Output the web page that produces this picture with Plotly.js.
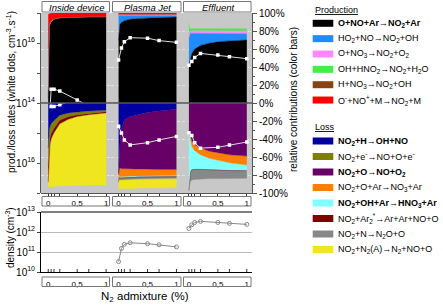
<!DOCTYPE html>
<html><head><meta charset="utf-8">
<script src="https://cdn.plot.ly/plotly-3.0.1.min.js"></script>
<style>html,body{margin:0;padding:0;background:#fff}#chart{width:443px;height:307px}</style>
</head><body><div id="chart"></div>
<script>
// ---------- DATA ----------
const xGrid = [0, 0.005, 0.01, 0.02, 0.03, 0.05, 0.1, 0.2, 0.35, 0.5, 0.7, 1];
const xDots = [0, 0.05, 0.1, 0.2, 0.5, 0.7, 1];
const xTickVals = [0, 0.05, 0.1, 0.2, 0.5, 0.7, 1];
const xTickText = ['0', '', '', '', '0,5', '', '1'];
const panelTitles = ['Inside device', 'Plasma Jet', 'Effluent'];

const prodNames = ['<b>O+NO+Ar→NO<sub>2</sub>+Ar</b>', 'HO<sub>2</sub>+NO→NO<sub>2</sub>+OH', 'O+NO<sub>3</sub>→NO<sub>2</sub>+O<sub>2</sub>',
  'OH+HNO<sub>2</sub>→NO<sub>2</sub>+H<sub>2</sub>O', 'H+NO<sub>3</sub>→NO<sub>2</sub>+OH', 'O<sup>-</sup>+NO<sup>+</sup>+M→NO<sub>2</sub>+M'];
const prodColors = ['#000000', '#1E8CFF', '#FF88FF', '#44EE44', '#884411', '#FF0000'];
const lossNames = ['<b>NO<sub>2</sub>+H→OH+NO</b>', 'NO<sub>2</sub>+e<sup>-</sup>→NO+O+e<sup>-</sup>', '<b>NO<sub>2</sub>+O→NO+O<sub>2</sub></b>',
  'NO<sub>2</sub>+O+Ar→NO<sub>3</sub>+Ar', '<b>NO<sub>2</sub>+OH+Ar→HNO<sub>3</sub>+Ar</b>', 'NO<sub>2</sub>+Ar<sub>2</sub><sup>*</sup>→Ar+Ar+NO+O',
  'NO<sub>2</sub>+N→N<sub>2</sub>O+O', 'NO<sub>2</sub>+N<sub>2</sub>(A)→N<sub>2</sub>+NO+O'];
const lossColors = ['#0000A0', '#808000', '#660066', '#FF8000', '#80FFFF', '#800000', '#888888', '#F0E620'];

// relative contributions (%) at xGrid, order = prodNames
const insideProd = [
  [5, 40, 70, 83, 87, 90, 93, 94.5, 95, 95.5, 95.5, 95.5],
  [0, 0, 0, 0, 0, 0, 0, 0, 0, 0, 0, 0],
  [10, 6, 3, 1, 0.5, 0.3, 0.2, 0.1, 0.1, 0.1, 0.1, 0.1],
  [0, 0, 0, 0, 0, 0, 0, 0, 0, 0, 0, 0],
  [45, 30, 12, 4, 2, 1, 0.5, 0.3, 0.2, 0.2, 0.2, 0.2],
  [38, 22, 14, 11, 10, 8.5, 6.2, 5, 4.6, 4.2, 4.2, 4.2]
];
const plasmaProd = [
  [70, 78, 82, 86, 88, 89.5, 91.5, 93, 94, 94.5, 95, 95.5],
  [27, 19.5, 15.3, 11.3, 9.3, 7.8, 5.8, 4.3, 3.3, 2.8, 2.3, 1.8],
  [1, 1, 1, 1, 1, 1, 1, 1, 1, 1, 1, 1],
  [0, 0, 0, 0, 0, 0, 0, 0, 0, 0, 0, 0],
  [0.2, 0.2, 0.2, 0.2, 0.2, 0.2, 0.2, 0.2, 0.2, 0.2, 0.2, 0.2],
  [1.5, 1.5, 1.5, 1.5, 1.5, 1.5, 1.5, 1.5, 1.5, 1.5, 1.5, 1.5]
];
const effluentProd = [
  [42, 43.5, 45, 48, 51, 55, 60, 64, 66.5, 68, 69, 70],
  [29, 30.5, 31, 29, 26.5, 22.5, 17.3, 13.2, 10.7, 9, 8, 7],
  [4, 3, 2.5, 2.5, 2.5, 2.7, 2.9, 3, 2.9, 3, 3, 3],
  [14, 7, 4.5, 3, 2.7, 2.4, 2.3, 2.3, 2.4, 2.5, 2.5, 2.5],
  [0, 0, 0, 0, 0, 0, 0, 0, 0, 0, 0, 0],
  [0, 0, 0, 0, 0, 0, 0, 0, 0, 0, 0, 0]
];
// loss contributions (% , drawn downwards), order = lossNames
const insideLoss = [
  [50, 42, 36, 30, 26, 23, 19.5, 13.5, 11, 9.8, 8.8, 8],
  [20, 21, 20, 15, 13, 11, 8.5, 5.5, 4, 3.2, 2.7, 1.8],
  [0, 0, 0, 0, 0, 0, 0, 0, 0, 0, 0, 0],
  [0, 0, 0, 0, 0, 0, 0, 0, 0, 0, 0, 0],
  [0, 0, 0, 0, 0, 0, 0, 0, 0, 0, 0, 0],
  [18, 17, 14, 10, 8, 6, 5, 4, 3, 2, 1.5, 1.2],
  [0, 0, 0, 0, 0, 0, 0, 0, 0, 0, 0, 0],
  [4, 13, 23, 38, 46, 53, 59.5, 69, 73.5, 76, 78, 80]
];
const plasmaLoss = [
  [78, 70, 58, 45, 37, 29, 19, 15, 12.5, 10.5, 9, 7],
  [0, 0, 0, 0, 0, 0, 0, 0, 0, 0, 0, 0],
  [2, 6, 15, 27.5, 35.5, 44, 54, 58, 61, 63, 65, 67],
  [5, 6, 8.5, 9.5, 9.5, 9, 9, 8.5, 7.5, 7.5, 6.5, 6.5],
  [1.5, 1, 1, 1, 1, 1, 1, 1, 1, 1, 1, 1],
  [0.5, 0.5, 0.5, 0.5, 0.5, 0.5, 0.5, 0.5, 0.5, 0.5, 0.5, 0.5],
  [1.5, 2, 2, 2, 2, 2, 2, 2, 2, 2, 2, 2],
  [7.5, 10, 10.5, 10, 10, 10, 10, 10, 10, 10, 10, 10]
];
const effluentLoss = [
  [0.5, 0.5, 0.5, 0.5, 0.5, 0.5, 0.5, 0.5, 0.5, 0.5, 0.5, 0.5],
  [0, 0, 0, 0, 0, 0, 0, 0, 0, 0, 0, 0],
  [29.5, 30.5, 32.5, 35.5, 37.5, 41.5, 45.5, 49.5, 53, 55, 57, 58.5],
  [1, 2, 3, 5, 6, 6, 7, 7.5, 8, 8.5, 9, 10],
  [66, 59, 50, 38, 32, 26, 20.5, 16, 12.5, 10.5, 8.3, 6],
  [0.3, 0.3, 0.3, 0.3, 0.3, 0.3, 0.3, 0.3, 0.3, 0.3, 0.3, 0.3],
  [0.2, 1.7, 4.7, 8.7, 10.2, 11.2, 11.2, 10.7, 9.7, 9.2, 8.7, 8.2],
  [0, 0, 0, 0, 0, 0, 0, 0, 0, 0, 0, 0]
];

// total rates (white dots, cm^-3 s^-1) at xDots
const insideProdRate = [5e12, 2.9e14, 2.9e14, 2.5e14, 1.26e14, 8e13, 5e13];
const insideLossRate = [5e12, 1.3e14, 1.3e14, 1.15e14, 7e13, 6e13, 5e13];
const plasmaProdRate = [2.7e15, 6.8e15, 1.1e16, 1.5e16, 1.45e16, 1.2e16, 1.05e16];
const plasmaLossRate = [5.9e14, 1e15, 1.7e15, 2.5e15, 2.1e15, 1.7e15, 1.3e15];
const effluentProdRate = [1.8e15, 2.4e15, 3.3e15, 4.5e15, 4e15, 3.5e15, 3e15];
const effluentLossRate = [9.8e14, 1.2e15, 2.1e15, 3.2e15, 3e15, 2.5e15, 2e15];

// NO2 density (cm^-3) at xDots
const plasmaDensity = [3.3e10, 1.5e11, 2.4e11, 2.9e11, 2.6e11, 2.3e11, 1.8e11];
const effluentDensity = [1.5e12, 2.3e12, 3.0e12, 3.4e12, 3.0e12, 2.7e12, 2.4e12];

const pctVals = [-100, -80, -60, -40, -20, 0, 20, 40, 60, 80, 100];
const pctText = ['-100%', '-80%', '-60%', '-40%', '-20%', '0%', '20%', '40%', '60%', '80%', '100%'];

// ---------- LAYOUT HELPERS ----------
const W = 443, H = 307;
const px = v => v / W, py = v => 1 - v / H;
const panelPx = [[41, 111.33], [111.33, 181.67], [181.67, 252]];
const doms = panelPx.map(d => [px(d[0]), px(d[1])]);
const topY = [py(193), py(13)], midY = py(103), botY = [py(272), py(212)];
const XR = [-0.125, 1.09];
const FONT = 'Arial, "Liberation Sans", sans-serif';

const traces = [];
const panels = [
  {xa: 'x', prod: insideProd, loss: insideLoss, pr: insideProdRate, lr: insideLossRate},
  {xa: 'x2', prod: plasmaProd, loss: plasmaLoss, pr: plasmaProdRate, lr: plasmaLossRate},
  {xa: 'x3', prod: effluentProd, loss: effluentLoss, pr: effluentProdRate, lr: effluentLossRate}
];
panels.forEach((p, pi) => {
  p.prod.forEach((vals, i) => {
    if (!vals.some(v => v > 0)) return;
    traces.push({type: 'scatter', x: xGrid, y: vals, xaxis: p.xa, yaxis: 'y', stackgroup: 'prod' + pi,
      mode: 'lines', line: {width: 0.4, color: prodColors[i]}, fillcolor: prodColors[i], hoverinfo: 'skip'});
  });
  p.loss.forEach((vals, i) => {
    if (!vals.some(v => v > 0)) return;
    traces.push({type: 'scatter', x: xGrid, y: vals.map(v => -v), xaxis: p.xa, yaxis: 'y', stackgroup: 'loss' + pi,
      mode: 'lines', line: {width: 0.4, color: lossColors[i]}, fillcolor: lossColors[i], hoverinfo: 'skip'});
  });
});
panels.forEach(p => {
  [[p.pr, 'y2'], [p.lr, 'y3']].forEach(([vals, ya]) => {
    traces.push({type: 'scatter', x: xDots, y: vals, xaxis: p.xa, yaxis: ya, mode: 'lines+markers',
      line: {color: '#dddddd', width: 1}, marker: {symbol: 'square', size: 3.5, color: '#ffffff'}, hoverinfo: 'skip'});
  });
});
// inside device: no density data (empty trace keeps its axis)
traces.push({type: 'scatter', x: [], y: [], xaxis: 'x4', yaxis: 'y4', mode: 'markers', hoverinfo: 'skip'});
[[plasmaDensity, 'x5'], [effluentDensity, 'x6']].forEach(([vals, xa]) => {
  traces.push({type: 'scatter', x: xDots, y: vals, xaxis: xa, yaxis: 'y4', mode: 'lines+markers',
    line: {color: '#888888', width: 1}, marker: {symbol: 'circle-open', size: 4, color: '#888888', line: {width: 1}}, hoverinfo: 'skip'});
});

function xTop(dom) {
  return {domain: dom, range: XR, anchor: 'y', tickmode: 'array', tickvals: xTickVals, ticktext: xTickText,
    ticks: 'outside', ticklen: 2, tickcolor: '#333', showline: true, linecolor: '#555', linewidth: 1,
    showgrid: false, zeroline: false, tickfont: {size: 8}};
}
function xBot(dom) {
  return {domain: dom, range: XR, anchor: 'y4', tickmode: 'array', tickvals: xTickVals, ticktext: xTickText,
    ticks: 'outside', ticklen: 4, tickcolor: 'rgba(0,0,0,0)', showline: true, linecolor: '#000', linewidth: 1,
    showgrid: false, zeroline: false, tickfont: {size: 8}};
}
const logLbl = e => '10<sup>' + e + '</sup>';

const shapes = [
  {type: 'rect', xref: 'paper', yref: 'paper', x0: px(41), x1: px(252), y0: topY[0], y1: topY[1],
    fillcolor: '#c8c8c8', line: {width: 0}, layer: 'below'},
  {type: 'line', xref: 'paper', yref: 'y', x0: px(41), x1: px(252), y0: 0, y1: 0,
    line: {color: '#555555', width: 1.5}, layer: 'above'},
  {type: 'line', xref: 'paper', yref: 'paper', x0: px(41), x1: px(252), y0: botY[1], y1: botY[1],
    line: {color: '#000000', width: 1}, layer: 'above'}
];
// upward tick marks on bottom density axes
['x4', 'x5', 'x6'].forEach(xa => {
  xTickVals.forEach(v => {
    shapes.push({type: 'line', xref: xa, yref: 'paper', x0: v, x1: v, y0: botY[0], y1: botY[0] + 3 / H,
      line: {color: '#333', width: 1}});
  });
});
const boxX = [[42, 109.5], [112.5, 181], [183.5, 251]];
const annotations = [];
boxX.forEach((b, i) => {
  [[1.5, 12], [196.5, 206], [277, 286.5]].forEach(([t, bt]) => {
    shapes.push({type: 'rect', xref: 'paper', yref: 'paper', x0: px(b[0]), x1: px(b[1]), y0: py(bt), y1: py(t),
      fillcolor: 'rgba(0,0,0,0)', line: {color: '#777', width: 1}, layer: 'above'});
  });
  annotations.push({xref: 'paper', yref: 'paper', x: px((b[0] + b[1]) / 2 + 1), y: py(7), text: '<i>' + panelTitles[i] + '</i>',
    showarrow: false, xanchor: 'center', yanchor: 'middle', font: {size: 9.5}});
});

// legend
const sw = [312.7, 333.3];
annotations.push({xref: 'paper', yref: 'paper', x: px(312.5), y: py(10), text: '<u>Production</u>', showarrow: false,
  xanchor: 'left', yanchor: 'middle', font: {size: 9}});
prodNames.forEach((n, i) => {
  const yc = 23.3 + i * 15.35;
  shapes.push({type: 'rect', xref: 'paper', yref: 'paper', x0: px(sw[0]), x1: px(sw[1]), y0: py(yc + 3.5), y1: py(yc - 3.5),
    fillcolor: prodColors[i], line: {width: 0}});
  annotations.push({xref: 'paper', yref: 'paper', x: px(335.5), y: py(yc), text: n, showarrow: false,
    xanchor: 'left', yanchor: 'middle', font: {size: 9}});
});
annotations.push({xref: 'paper', yref: 'paper', x: px(312.5), y: py(127), text: '<u>Loss</u>', showarrow: false,
  xanchor: 'left', yanchor: 'middle', font: {size: 9}});
lossNames.forEach((n, i) => {
  const yc = 141 + i * 15.5;
  shapes.push({type: 'rect', xref: 'paper', yref: 'paper', x0: px(sw[0]), x1: px(sw[1]), y0: py(yc + 3.5), y1: py(yc - 3.5),
    fillcolor: lossColors[i], line: {width: 0}});
  annotations.push({xref: 'paper', yref: 'paper', x: px(335.5), y: py(yc), text: n, showarrow: false,
    xanchor: 'left', yanchor: 'middle', font: {size: 9}});
});

// axis titles
annotations.push({xref: 'paper', yref: 'paper', x: px(11), y: py(92), text: 'prod./loss rates (white dots, cm<sup>-3</sup>.s<sup>-1</sup>)',
  textangle: -90, showarrow: false, xanchor: 'center', yanchor: 'middle', font: {size: 10}});
annotations.push({xref: 'paper', yref: 'paper', x: px(294), y: py(100), text: 'relative contributions (color bars)',
  textangle: -90, showarrow: false, xanchor: 'center', yanchor: 'middle', font: {size: 10}});
annotations.push({xref: 'paper', yref: 'paper', x: px(10), y: py(238), text: 'density (cm<sup>-3</sup>)',
  textangle: -90, showarrow: false, xanchor: 'center', yanchor: 'middle', font: {size: 10}});
annotations.push({xref: 'paper', yref: 'paper', x: px(145), y: py(297), text: 'N<sub>2</sub> admixture (%)',
  showarrow: false, xanchor: 'center', yanchor: 'middle', font: {size: 11.5}});

const layout = {
  width: W, height: H, autosize: false, margin: {l: 0, r: 0, t: 0, b: 0},
  paper_bgcolor: '#ffffff', plot_bgcolor: 'rgba(0,0,0,0)', showlegend: false,
  font: {family: FONT, size: 10, color: '#000'},
  xaxis: xTop(doms[0]), xaxis2: xTop(doms[1]), xaxis3: xTop(doms[2]),
  xaxis4: xBot(doms[0]), xaxis5: xBot(doms[1]), xaxis6: xBot(doms[2]),
  yaxis: {domain: topY, range: [-100, 100], side: 'right', anchor: 'x3', tickmode: 'array', tickvals: pctVals, ticktext: pctText,
    ticks: 'outside', ticklen: 4, tickcolor: '#555', showline: true, linecolor: '#555', showgrid: true, gridcolor: '#e2e2e2',
    griddash: 'dot', gridwidth: 1, zeroline: false, tickfont: {size: 10},
    minor: {tickmode: 'array', tickvals: [-90, -70, -50, -30, -10, 10, 30, 50, 70, 90], ticks: 'outside', ticklen: 2, tickcolor: '#555', showgrid: false}},
  yaxis2: {domain: [midY, topY[1]], type: 'log', range: [14, 17], anchor: 'x', side: 'left', tickmode: 'array',
    tickvals: [1e14, 1e15, 1e16, 1e17], ticktext: [logLbl(14), '', logLbl(16), ''], ticks: 'outside', ticklen: 3, tickcolor: '#555',
    showline: true, linecolor: '#555', showgrid: false, zeroline: false, tickfont: {size: 10}},
  yaxis3: {domain: [topY[0], midY], type: 'log', range: [17, 14], anchor: 'x', side: 'left', tickmode: 'array',
    tickvals: [1e15, 1e16, 1e17], ticktext: ['', logLbl(16), ''], ticks: 'outside', ticklen: 3, tickcolor: '#555',
    showline: true, linecolor: '#555', showgrid: false, zeroline: false, tickfont: {size: 10}},
  yaxis4: {domain: botY, type: 'log', range: [10, 13], anchor: 'x4', side: 'left', tickmode: 'array',
    tickvals: [1e10, 1e11, 1e12, 1e13], ticktext: [logLbl(10), logLbl(11), logLbl(12), logLbl(13)], ticks: 'outside', ticklen: 3,
    showline: true, linecolor: '#000', showgrid: true, gridcolor: '#bbbbbb', zeroline: false, tickfont: {size: 10}},
  yaxis5: {overlaying: 'y4', type: 'log', range: [10, 13], anchor: 'x6', side: 'right', tickmode: 'array',
    tickvals: [1e10, 1e11, 1e12, 1e13], showticklabels: false, ticks: 'outside', ticklen: 3, tickcolor: '#555',
    showline: false, showgrid: false, zeroline: false},
  shapes: shapes, annotations: annotations
};

Plotly.newPlot('chart', traces, layout, {staticPlot: true, displayModeBar: false});
</script></body></html>
